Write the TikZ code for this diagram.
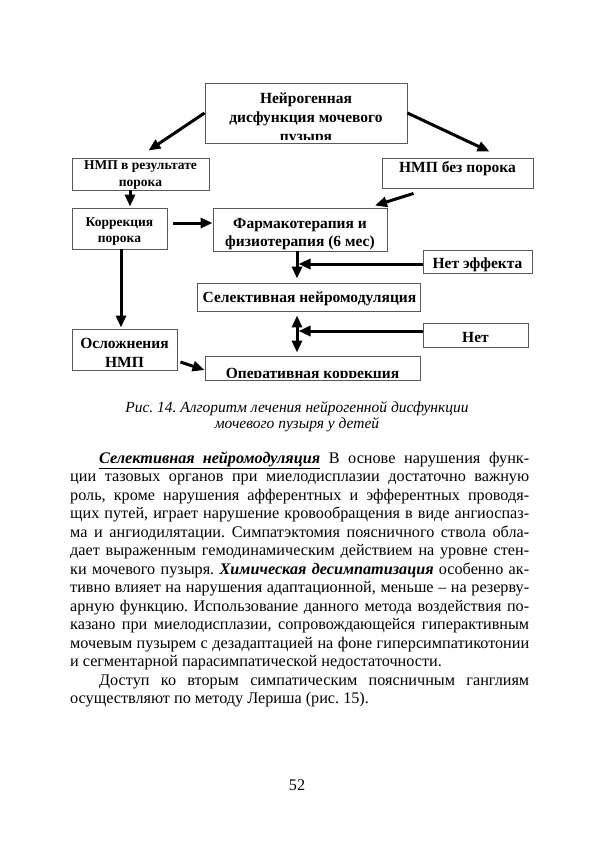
\documentclass[tikz,border=0pt]{standalone}
\usepackage{fontspec}
\setmainfont{Liberation Serif}
\usetikzlibrary{arrows.meta}
\frenchspacing
\tikzset{
  box/.style={draw=black!65, line width=0.9pt, inner sep=0pt, rectangle},
  lbl/.style={inner sep=0pt, anchor=base, font=\bfseries\fontsize{15.5}{18}\selectfont},
  lbls/.style={inner sep=0pt, anchor=base, font=\bfseries\fontsize{13.5}{16}\selectfont},
  arr/.style={line width=3pt, -{Triangle[length=12pt,width=10pt]}},
  dbl/.style={line width=3pt, {Triangle[length=12pt,width=10pt]}-{Triangle[length=12pt,width=10pt]}},
  body/.style={inner sep=0pt, anchor=base west, font=\fontsize{16.2}{18.5}\selectfont},
  captext/.style={inner sep=0pt, anchor=base, font=\itshape\fontsize{15.5}{18}\selectfont},
}
\newcommand{\jl}[2]{\makebox[#1pt][s]{#2}}
\begin{document}
\begin{tikzpicture}[x=1pt,y=-1pt]
\fill[white] (0,0) rectangle (594,841);
\useasboundingbox (0,0) rectangle (594,841);

% boxes
\node[box, minimum width=202pt, minimum height=60pt] (top) at (306,113) {};
\node[box, minimum width=137pt, minimum height=32pt] (nmp1) at (140.5,174) {};
\node[box, minimum width=151pt, minimum height=30pt] (nmp2) at (457.5,173) {};
\node[box, minimum width=95pt, minimum height=41pt] (korr) at (119.5,228.5) {};
\node[box, minimum width=174pt, minimum height=43pt] (farm) at (300,229.5) {};
\node[box, minimum width=109pt, minimum height=23pt] (neteff) at (477.5,261.5) {};
\node[box, minimum width=223pt, minimum height=28pt] (sel) at (308.5,297) {};
\node[box, minimum width=105pt, minimum height=24pt] (net) at (475.5,335) {};
\node[box, minimum width=105pt, minimum height=41pt] (osl) at (124.5,349.5) {};
\node[box, minimum width=215pt, minimum height=24pt] (oper) at (312.5,368) {};

% box texts
\begin{scope}
\clip (205,83) rectangle (407,139.5);
\node[lbl] (top1) at (306,103) {Нейрогенная};
\node[lbl] (top2) at (306,122) {дисфункция мочевого};
\node[lbl] (top3) at (306,141) {пузыря};
\end{scope}
\node[lbls] (nmp1a) at (140.5,169) {НМП в результате};
\node[lbls] (nmp1b) at (140.5,186) {порока};
\node[lbl] (nmp2a) at (457.5,172) {НМП без порока};
\node[lbls] (korra) at (119.5,226) {Коррекция};
\node[lbls] (korrb) at (119.5,242) {порока};
\node[lbl] (farma) at (300,228) {Фармакотерапия и};
\node[lbl] (farmb) at (300,246) {физиотерапия (6 мес)};
\node[lbl] (neteffa) at (477.5,268) {Нет эффекта};
\node[lbl] (sela) at (309.5,302) {Селективная нейромодуляция};
\node[lbl] (neta) at (475.5,342) {Нет};
\node[lbl] (osla) at (124.5,348) {Осложнения};
\node[lbl] (oslb) at (124.5,367) {НМП};
\begin{scope}
\clip (205,356) rectangle (420,377.5);
\node[lbl] (opera) at (312.5,378) {Оперативная коррекция};
\end{scope}

% connectors
\coordinate (vline) at ([xshift=-3pt]farm.south);
\coordinate (vlineR) at ([xshift=1.5pt]vline);
\draw[arr] (top.west) -- ([xshift=8pt,yshift=7pt]nmp1.north);
\draw[arr] (top.east) -- ([xshift=32pt,yshift=6pt]nmp2.north);
\draw[arr] ([xshift=-10.5pt]nmp1.south) -- ([xshift=10.5pt,yshift=1pt]korr.north);
\draw[arr] ([xshift=-44pt,yshift=-5pt]nmp2.south) -- ([xshift=75pt,yshift=2pt]farm.north);
\draw[arr] ([xshift=6pt,yshift=5.5pt]korr.east) -- ([yshift=6.5pt]farm.west);
\draw[arr] (vline) -- ([xshift=-11.5pt,yshift=4pt]sel.north);
\coordinate (ne) at ([yshift=-2.5pt]neteff.west);
\draw[arr] (ne) -- (vlineR |- ne);
\draw[arr] ([xshift=1.5pt]korr.south) -- ([xshift=-3.5pt,yshift=1pt]osl.north);
\draw[dbl] ([xshift=-11.5pt,yshift=-4pt]sel.south) -- ([xshift=-15.5pt,yshift=3pt]oper.north);
\coordinate (nw) at ([yshift=4pt]net.west);
\draw[arr] (nw) -- (vlineR |- nw);
\draw[arr] ([xshift=3pt,yshift=-12.5pt]osl.east) -- ([yshift=-2pt]oper.west);

% caption
\node[captext] (cap1) at (297,412) {Рис. 14. Алгоритм лечения нейрогенной дисфункции};
\node[captext] (cap2) at (297,428) {мочевого пузыря у детей};

% body text
\node[body] (b1) at (99,463) {\jl{430}{\textbf{\textit{\underline{Селективная\ \ нейромодуляция}}} В основе нарушения функ-}};
\node[body] (b2) at (70,481.5) {\jl{459}{ции тазовых органов при миелодисплазии достаточно важную}};
\node[body] (b3) at (70,500) {\jl{459}{роль, кроме нарушения афферентных и эфферентных проводя-}};
\node[body] (b4) at (70,518.5) {\jl{459}{щих путей, играет нарушение кровообращения в виде ангиоспаз-}};
\node[body] (b5) at (70,537) {\jl{459}{ма и ангиодилятации. Симпатэктомия поясничного ствола обла-}};
\node[body] (b6) at (70,555.5) {\jl{459}{дает выраженным гемодинамическим действием на уровне стен-}};
\node[body] (b7) at (70,574) {\jl{459}{ки мочевого пузыря. \textbf{\textit{Химическая десимпатизация}} особенно ак-}};
\node[body] (b8) at (70,592.5) {\jl{459}{тивно влияет на нарушения адаптационной, меньше – на резерву-}};
\node[body] (b9) at (70,611) {\jl{459}{арную функцию. Использование данного метода воздействия по-}};
\node[body] (b10) at (70,629.5) {\jl{459}{казано при миелодисплазии, сопровождающейся гиперактивным}};
\node[body] (b11) at (70,648) {\jl{459}{мочевым пузырем с дезадаптацией на фоне гиперсимпатикотонии}};
\node[body] (b12) at (70,666.5) {и сегментарной парасимпатической недостаточности.};
\node[body] (b13) at (99,685) {\jl{430}{Доступ ко вторым симпатическим поясничным ганглиям}};
\node[body] (b14) at (70,703.5) {осуществляют по методу Лериша (рис. 15).};

% page number
\node[body, anchor=base] (pg) at (297,790) {52};
\end{tikzpicture}
\end{document}
